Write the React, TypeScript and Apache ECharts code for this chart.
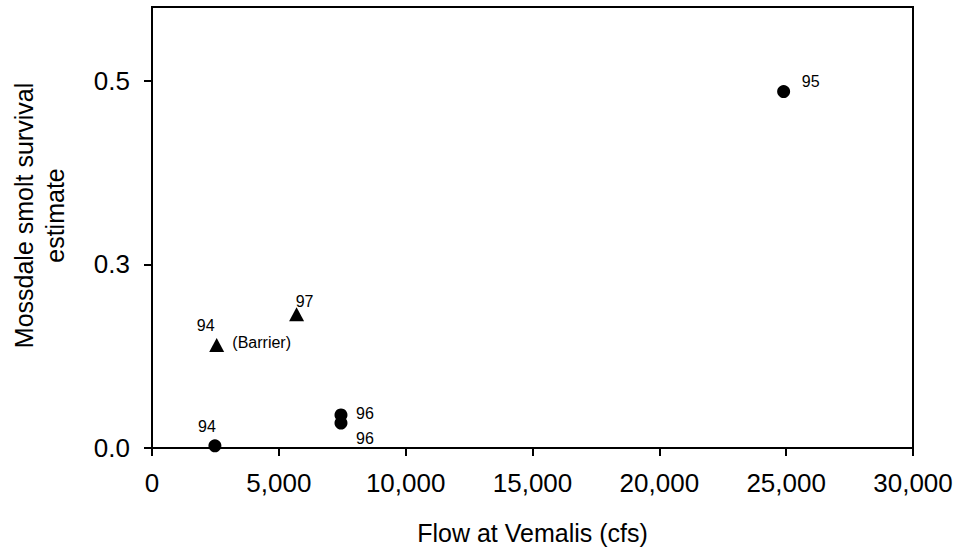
import React, { useEffect, useRef } from "react";
import * as echarts from "echarts";

// ---- data ----
const circleFlow = [24900, 2480, 7450, 7450];
const circleSurvival = [0.485, 0.003, 0.045, 0.034];
const circleLabels = ["95", "94", "96", "96"];

const triangleFlow = [2550, 5700];
const triangleSurvival = [0.14, 0.182];
const triangleLabels = ["94", "97"];

const barrierNote = "(Barrier)";
const barrierIndex = 0; // the 1994 barrier triangle

const xTickLabelsValues = [0, 5000, 10000, 15000, 20000, 25000, 30000];
const yTickValues = [0, 0.25, 0.5];
const yTickLabels = ["0.0", "0.3", "0.5"];

const xAxisTitle = "Flow at Vemalis (cfs)";
const yAxisTitle = "Mossdale smolt survival\nestimate";

// ---- label placement (styles) ----
const circleLabelOffsets: [number, number][] = [
  [27, -10],
  [-8, -19],
  [24, -1],
  [24, 15],
];
const triangleLabelOffsets: [number, number][] = [
  [-11, -20],
  [8, -13],
];
const barrierOffset: [number, number] = [45, -3];

const FONT = "'Liberation Sans', Arial, Helvetica, sans-serif";

export default function App() {
  const ref = useRef<HTMLDivElement>(null);

  useEffect(() => {
    if (!ref.current) return;
    const chart = echarts.init(ref.current, undefined, { renderer: "svg" });

    const pointLabel = (text: string, offset: [number, number]) => ({
      show: true,
      formatter: text,
      position: "inside",
      offset,
      color: "#000",
      opacity: 1,
      fontSize: 16,
      fontFamily: FONT,
    });

    const circleData = circleFlow.map((x, i) => ({
      value: [x, circleSurvival[i]],
      label: pointLabel(circleLabels[i], circleLabelOffsets[i]),
    }));
    const triangleData = triangleFlow.map((x, i) => ({
      value: [x, triangleSurvival[i]],
      label: pointLabel(triangleLabels[i], triangleLabelOffsets[i]),
    }));
    const barrierData = [
      {
        value: [triangleFlow[barrierIndex], triangleSurvival[barrierIndex]],
        label: pointLabel(barrierNote, barrierOffset),
      },
    ];

    chart.setOption({
      animation: false,
      backgroundColor: "#fff",
      grid: {
        left: 151,
        right: 48,
        top: 7,
        bottom: 104,
        show: true,
        borderColor: "#000",
        borderWidth: 2,
        containLabel: false,
      },
      xAxis: {
        type: "value",
        min: 0,
        max: 30000,
        interval: 5000,
        name: xAxisTitle,
        nameLocation: "middle",
        nameGap: 72,
        nameTextStyle: { fontSize: 25, fontFamily: FONT, color: "#000" },
        axisLine: { show: true, onZero: false, lineStyle: { color: "#000", width: 2 } },
        axisTick: { show: true, inside: false, length: 8, lineStyle: { color: "#000", width: 2 } },
        axisLabel: {
          show: true,
          margin: 22,
          fontSize: 26,
          fontFamily: FONT,
          color: "#000",
          customValues: xTickLabelsValues,
          formatter: (v: number) => v.toLocaleString("en-US"),
        },
        splitLine: { show: false },
      },
      yAxis: {
        type: "value",
        min: 0,
        max: 0.6,
        name: yAxisTitle,
        nameLocation: "middle",
        nameGap: 82,
        nameRotate: 90,
        nameTextStyle: {
          fontSize: 25,
          fontFamily: FONT,
          color: "#000",
          lineHeight: 31,
          align: "center",
          padding: [0, 0, 0, 24],
        },
        axisLine: { show: true, onZero: false, lineStyle: { color: "#000", width: 2 } },
        axisTick: {
          show: true,
          inside: false,
          length: 8,
          customValues: yTickValues,
          lineStyle: { color: "#000", width: 2 },
        },
        axisLabel: {
          show: true,
          margin: 22,
          fontSize: 26,
          fontFamily: FONT,
          color: "#000",
          customValues: yTickValues,
          formatter: (v: number) => {
            const idx = yTickValues.findIndex((t) => Math.abs(t - v) < 1e-9);
            return idx >= 0 ? yTickLabels[idx] : "";
          },
        },
        splitLine: { show: false },
      },
      series: [
        {
          type: "scatter",
          name: "circles",
          symbol: "circle",
          symbolSize: 13,
          itemStyle: { color: "#000", opacity: 1 },
          data: circleData,
          z: 3,
        },
        {
          type: "scatter",
          name: "triangles",
          symbol: "triangle",
          symbolSize: [15, 14],
          itemStyle: { color: "#000", opacity: 1 },
          data: triangleData,
          z: 3,
        },
        {
          type: "scatter",
          name: "barrier-note",
          symbol: "circle",
          symbolSize: 0,
          itemStyle: { color: "rgba(0,0,0,0)", opacity: 1 },
          data: barrierData,
          z: 3,
        },
      ],
    });

    return () => {
      chart.dispose();
    };
  }, []);

  return (
    <div
      ref={ref}
      style={{ position: "fixed", left: 0, top: 0, width: 961, height: 552, background: "#fff" }}
    />
  );
}
